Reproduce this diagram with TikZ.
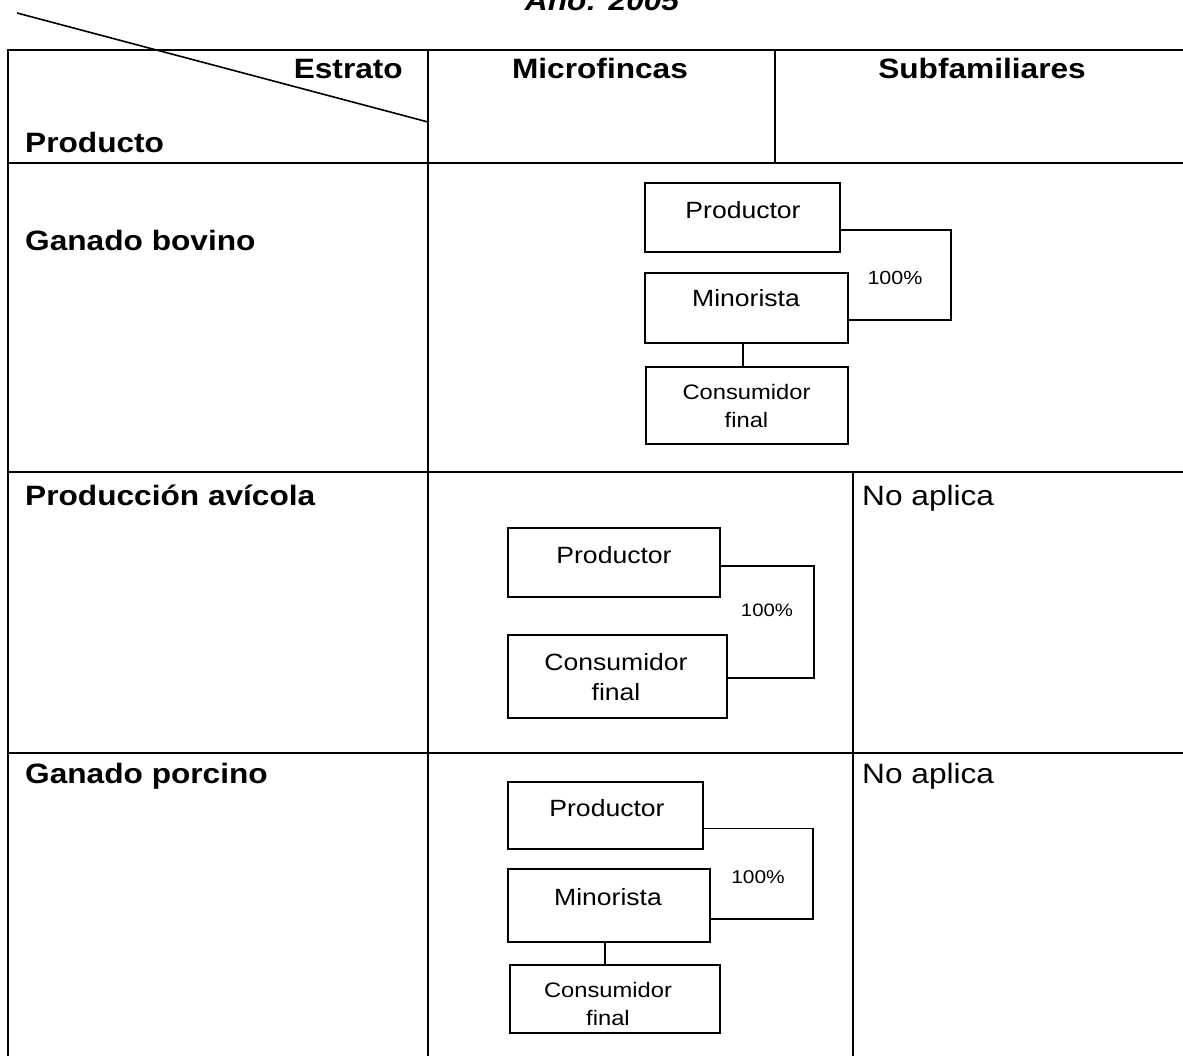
\documentclass[tikz,border=0pt]{standalone}
\usepackage{fontspec}
\setmainfont[FakeStretch=1.13]{Liberation Sans}
\usetikzlibrary{calc}
\begin{document}
\begin{tikzpicture}[x=1pt,y=-1pt,
  grid/.style={line width=1.7pt},
  box/.style={draw, line width=1.6pt, inner sep=0pt},
  conn/.style={line width=1.5pt},
  big/.style={font=\fontsize{28}{32}\selectfont\bfseries, inner sep=0pt},
  reg/.style={font=\fontsize{28}{32}\selectfont, inner sep=0pt},
  btxt/.style={font=\fontsize{23.5}{30}\selectfont, inner sep=0pt, align=center},
  ctxt/.style={font=\fontsize{21}{28}\selectfont, inner sep=0pt, align=center},
  pct/.style={font=\fontsize{19}{22}\selectfont, inner sep=0pt}]
\useasboundingbox (0,0) rectangle (1183,1055);
\clip (0,0) rectangle (1183,1055);
\fill[white] (0,0) rectangle (1183,1055);

% title (cut off at top)
\node[big, font=\fontsize{28}{32}\selectfont\bfseries\itshape, anchor=base] (title) at (602,10) {Año: 2005};

% table grid
\draw[grid] (8,1060) -- (8,50) -- (1190,50);
\draw[grid] (8,163) -- (1190,163);
\draw[grid] (8,472) -- (1190,472);
\draw[grid] (8,753) -- (1190,753);
\draw[grid] (428,50) -- (428,1060);
\draw[grid] (775,50) -- (775,163);
\draw[grid] (853,472) -- (853,1060);
\coordinate (d1) at (17,13);
\coordinate (d2) at (428,122);
\draw[line width=1.6pt] (d1) -- (d2);

% header texts
\node[big, anchor=base east] (estrato) at (403,78) {Estrato};
\node[big, anchor=base west] (producto) at (25,152) {Producto};
\node[big, anchor=base] (micro) at (600,78) {Microfincas};
\node[big, anchor=base] (subf) at (982,78) {Subfamiliares};

% row labels
\node[big, anchor=base west] (r1) at (25,250) {Ganado bovino};
\node[big, anchor=base west] (r2) at (25,505) {Producción avícola};
\node[big, anchor=base west] (r3) at (25,783) {Ganado porcino};
\node[reg, anchor=base west] (na2) at (862,505) {No aplica};
\node[reg, anchor=base west] (na3) at (862,783) {No aplica};

% ---- Ganado bovino
\node[box, minimum width=195pt, minimum height=69pt] (bp) at (742.5,217.5) {};
\node[btxt] (bpt) at (743,210) {Productor};
\node[box, minimum width=203pt, minimum height=70pt] (bm) at (746.5,308) {};
\node[btxt] (bmt) at (746,298) {Minorista};
\node[box, minimum width=202pt, minimum height=77pt] (bc) at (747,405.5) {};
\node[ctxt] (bct) at (746.5,406) {Consumidor\\final};
\draw[conn] ($(bp.north east)!0.68!(bp.south east)$) -- ++(110,0) |- ($(bm.north east)!0.67!(bm.south east)$);
\node[pct] (b100) at (895,278) {100\%};
\draw[conn] (743,343) -- (bc.north -| 743,0);

% ---- Produccion avicola
\node[box, minimum width=212pt, minimum height=69pt] (ap) at (614,562.5) {};
\node[btxt] (apt) at (614,555) {Productor};
\node[box, minimum width=219pt, minimum height=83pt] (ac) at (617.5,676.5) {};
\node[btxt] (act) at (616,677) {Consumidor\\final};
\draw[conn] ($(ap.north east)!0.55!(ap.south east)$) -- ++(93,0) |- ($(ac.north east)!0.52!(ac.south east)$);
\node[pct, font=\fontsize{18}{22}\selectfont] (a100) at (767,610) {100\%};

% ---- Ganado porcino
\node[box, minimum width=195pt, minimum height=67pt] (pp) at (605.5,815.5) {};
\node[btxt] (ppt) at (607,808) {Productor};
\node[box, minimum width=202pt, minimum height=73pt] (pm) at (609,905.5) {};
\node[btxt] (pmt) at (608,897) {Minorista};
\node[box, minimum width=210pt, minimum height=68pt] (pc) at (615,999) {};
\node[ctxt] (pct) at (608,1004) {Consumidor\\final};
\draw[conn] ($(pp.north east)!0.69!(pp.south east)$) -- ++(109,0) |- ($(pm.north east)!0.68!(pm.south east)$);
\node[pct, font=\fontsize{18.5}{22}\selectfont] (p100) at (758,877) {100\%};
\draw[conn] (605,942) -- (pc.north -| 605,0);
\end{tikzpicture}
\end{document}
